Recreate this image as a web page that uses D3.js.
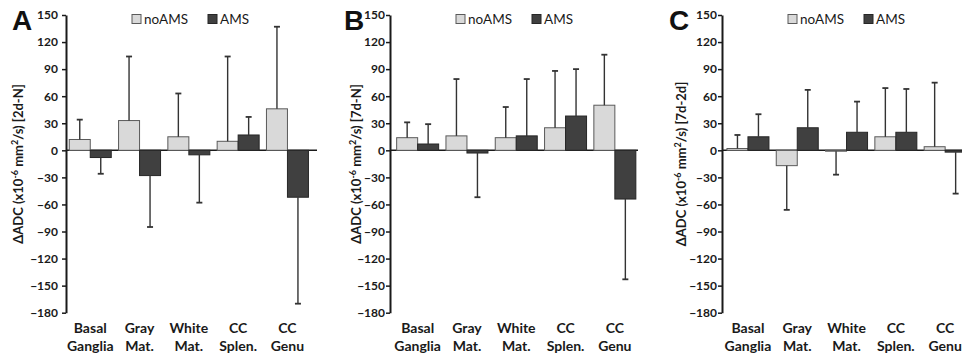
<!DOCTYPE html>
<html>
<head>
<meta charset="utf-8">
<script src="https://cdn.jsdelivr.net/npm/d3@7"></script>
<style>
  body { margin: 0; background: #fff; }
  svg { display: block; }
</style>
</head>
<body>
<div id="host"></div>
<script>
// categories, two text lines each
const categories = ['Basal Ganglia', 'Gray Mat.', 'White Mat.', 'CC Splen.', 'CC Genu'];
const categoryLines = [['Basal', 'Ganglia'], ['Gray', 'Mat.'], ['White', 'Mat.'], ['CC', 'Splen.'], ['CC', 'Genu']];
const series = ['noAMS', 'AMS'];
const yTicks = [150, 120, 90, 60, 30, 0, -30, -60, -90, -120, -150, -180];

// A: 2d-N  (mean, sd)
const noAMS_2dN = [12, 33, 15, 10, 46];
const noAMS_2dN_sd = [22, 71, 48, 94, 91];
const AMS_2dN = [-8, -28, -5, 17, -52];
const AMS_2dN_sd = [18, 57, 53, 20, 118];

// B: 7d-N
const noAMS_7dN = [14, 16, 14, 25, 50];
const noAMS_7dN_sd = [17, 63, 34, 63, 56];
const AMS_7dN = [7, -3, 16, 38, -54];
const AMS_7dN_sd = [22, 49, 63, 52, 89];

// C: 7d-2d
const noAMS_7d2d = [2, -17, -1, 15, 4];
const noAMS_7d2d_sd = [15, 49, 26, 54, 71];
const AMS_7d2d = [15, 25, 20, 20, -2];
const AMS_7d2d_sd = [25, 42, 34, 48, 46];

const panels = [
  { letter: 'A', tag: '[2d-N]', values: [noAMS_2dN, AMS_2dN], sds: [noAMS_2dN_sd, AMS_2dN_sd],
    axisX: 66, bandX: 65.6, tickPad: 4, letterX: 12, titleX: 23, lineEnd: 317 },
  { letter: 'B', tag: '[7d-N]', values: [noAMS_7dN, AMS_7dN], sds: [noAMS_7dN_sd, AMS_7dN_sd],
    axisX: 390, bandX: 393, tickPad: 1, letterX: 344, titleX: 361, lineEnd: 638 },
  { letter: 'C', tag: '[7d-2d]', values: [noAMS_7d2d, AMS_7d2d], sds: [noAMS_7d2d_sd, AMS_7d2d_sd],
    axisX: 722, bandX: 723.3, tickPad: 1, letterX: 669, titleX: 686, lineEnd: 970 },
];

const W = 962, H = 358;
const FILL = { noAMS: '#d9d9d9', AMS: '#404040' };
const STROKE = { noAMS: '#5a5a5a', AMS: '#262626' };
const FONT = 'Lato, "Open Sans", sans-serif';

const svg = d3.select('#host').append('svg')
  .attr('width', W)
  .attr('height', H)
  .attr('viewBox', `0 0 ${W} ${H}`);

const y = d3.scaleLinear().domain([-180, 150]).range([312.7, 15]);

panels.forEach((p) => {
  const g = svg.append('g');

  const x0 = d3.scaleBand().domain(categories)
    .range([p.bandX, p.bandX + 5 * 49.3])
    .paddingInner(0).paddingOuter(0);
  const x1 = d3.scaleBand().domain(series)
    .range([0, x0.bandwidth()])
    .paddingInner(0).paddingOuter(0.174);

  // zero line
  g.append('line')
    .attr('x1', p.axisX).attr('x2', p.lineEnd)
    .attr('y1', y(0)).attr('y2', y(0))
    .attr('stroke', '#1a1a1a')
    .attr('stroke-width', 1.6);

  // bars + error bars
  series.forEach((s, si) => {
    const rows = categories.map((c, i) => ({ c, v: p.values[si][i], sd: p.sds[si][i] }));

    g.append('g').selectAll('rect')
      .data(rows)
      .join('rect')
      .attr('x', (d) => x0(d.c) + x1(s))
      .attr('width', x1.bandwidth())
      .attr('y', (d) => y(Math.max(0, d.v)))
      .attr('height', (d) => Math.abs(y(d.v) - y(0)))
      .attr('fill', FILL[s])
      .attr('stroke', STROKE[s])
      .attr('stroke-width', 1);

    const err = g.append('g')
      .attr('stroke', '#333')
      .attr('stroke-width', 1.4)
      .selectAll('g')
      .data(rows)
      .join('g')
      .attr('transform', (d) => `translate(${x0(d.c) + x1(s) + x1.bandwidth() / 2},0)`);
    const tip = (d) => y(d.v + (d.v < 0 ? -d.sd : d.sd));
    err.append('line')
      .attr('y1', (d) => y(d.v)).attr('y2', tip);
    err.append('line')
      .attr('x1', -3).attr('x2', 3)
      .attr('y1', tip).attr('y2', tip)
      .attr('stroke-width', 1.8);
  });

  // y axis
  const axis = g.append('g')
    .attr('transform', `translate(${p.axisX},0)`)
    .call(d3.axisLeft(y).tickValues(yTicks).tickSize(4).tickPadding(p.tickPad).tickSizeOuter(0));
  axis.select('.domain').attr('stroke', '#1a1a1a').attr('stroke-width', 2);
  axis.selectAll('.tick line').attr('stroke', '#1a1a1a').attr('stroke-width', 1.5);
  axis.selectAll('.tick text')
    .attr('font-family', FONT)
    .attr('font-weight', 700)
    .attr('font-size', 12)
    .attr('fill', '#1a1a1a');

  // category labels
  const cat = g.append('g').selectAll('text')
    .data(categories)
    .join('text')
    .attr('x', (d) => x0(d) + x0.bandwidth() / 2)
    .attr('text-anchor', 'middle')
    .attr('font-family', FONT)
    .attr('font-weight', 700)
    .attr('font-size', 14)
    .attr('fill', '#1a1a1a');
  cat.append('tspan').attr('y', 333).text((d, i) => categoryLines[i][0]);
  cat.append('tspan')
    .attr('x', (d) => x0(d) + x0.bandwidth() / 2)
    .attr('y', 351).text((d, i) => categoryLines[i][1]);

  // y title
  const title = g.append('text')
    .attr('transform', `translate(${p.titleX},164) rotate(-90)`)
    .attr('text-anchor', 'middle')
    .attr('font-family', FONT)
    .attr('font-weight', 700)
    .attr('font-size', 13)
    .attr('fill', '#1a1a1a');
  title.append('tspan').text('ΔADC (x10');
  title.append('tspan').attr('font-size', 9).attr('dy', -5).text('-6');
  title.append('tspan').attr('dy', 5).text(' mm');
  title.append('tspan').attr('font-size', 9).attr('dy', -5).text('2');
  title.append('tspan').attr('dy', 5).text(`/s) ${p.tag}`);

  // panel letter
  g.append('text')
    .attr('x', p.letterX).attr('y', 30)
    .attr('font-family', '"Liberation Sans", Arial, sans-serif')
    .attr('font-weight', 700)
    .attr('font-size', 28)
    .attr('fill', '#111')
    .text(p.letter);

  // legend
  const leg = g.append('g').selectAll('g')
    .data(series)
    .join('g')
    .attr('transform', (d, i) => `translate(${p.axisX + 66 + i * 76},14.5)`);
  leg.append('rect')
    .attr('width', 9).attr('height', 9)
    .attr('fill', (d) => FILL[d])
    .attr('stroke', (d) => STROKE[d])
    .attr('stroke-width', 1);
  leg.append('text')
    .attr('x', 12).attr('y', 9)
    .attr('font-family', FONT)
    .attr('font-size', 13.5)
    .attr('fill', '#1a1a1a')
    .text((d) => d);
});
</script>
</body>
</html>
